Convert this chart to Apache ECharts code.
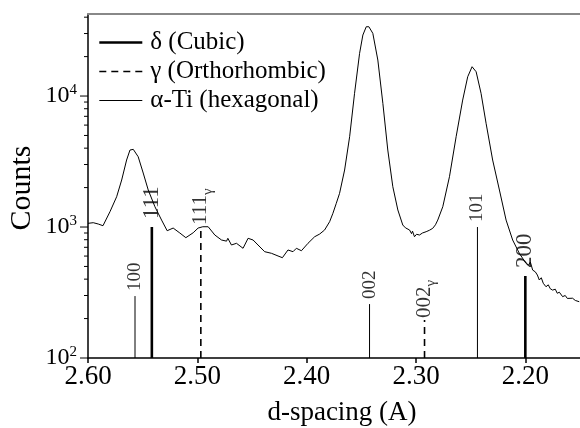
<!DOCTYPE html>
<html>
<head>
<meta charset="utf-8">
<script src="https://cdn.jsdelivr.net/npm/echarts@6/dist/echarts.min.js"></script>
<style>html,body{margin:0;padding:0;background:#fff}#c{width:580px;height:428px}</style>
</head>
<body>
<div id="c"></div>
<script>
// ---- data ----
const curve = [
[2.6000,1067],[2.5952,1079],[2.5906,1054],[2.5863,1023],[2.5799,1309],[2.5738,1703],[2.5692,2285],[2.5647,3247],
[2.5616,3870],[2.5586,3918],[2.5541,3441],[2.5495,2584],[2.5449,1916],[2.5388,1429],[2.5327,1130],[2.5276,937],
[2.5221,982],[2.5160,900],[2.5105,829],[2.5038,904],[2.4993,982],[2.4950,1005],[2.4901,1005],[2.4840,869],
[2.4779,796],[2.4733,780],[2.4721,820],[2.4688,729],[2.4642,751],[2.4582,688],[2.4536,820],[2.4490,796],
[2.4445,729],[2.4384,648],[2.4322,630],[2.4262,601],[2.4222,583],[2.4171,668],[2.4125,648],[2.4094,688],
[2.4048,659],[2.3988,751],[2.3927,843],[2.3881,884],[2.3836,949],[2.3790,1098],[2.3760,1273],[2.3729,1517],
[2.3699,1808],[2.3653,2723],[2.3607,4892],[2.3562,10490],[2.3516,21180],[2.3486,29220],[2.3455,33810],[2.3431,33810],
[2.3395,30110],[2.3349,18830],[2.3303,8790],[2.3258,3870],[2.3212,2031],[2.3166,1349],[2.3121,1036],[2.3096,985],
[2.3078,1010],[2.3059,949],[2.3041,890],[2.3032,930],[2.3014,843],[2.2995,880],[2.2968,869],[2.2941,900],
[2.2907,921],[2.2877,945],[2.2847,977],[2.2822,1040],[2.2801,1130],[2.2755,1429],[2.2694,2421],[2.2633,4892],
[2.2573,9318],[2.2527,14040],[2.2487,16740],[2.2450,15330],[2.2405,10490],[2.2359,6190],[2.2299,3247],[2.2237,1916],
[2.2176,1130],[2.2116,796],[2.2055,630],[2.1994,528],[2.1973,510],[2.1954,540],[2.1933,469],[2.1909,455],
[2.1890,430],[2.1872,394],[2.1854,410],[2.1836,372],[2.1811,350],[2.1790,362],[2.1772,338],[2.1751,330],
[2.1726,335],[2.1708,312],[2.1689,318],[2.1659,294],[2.1635,300],[2.1616,285],[2.1598,295],[2.1568,286],
[2.1543,275],[2.1525,280],[2.1507,269]
];

const deltaName = 'δ (Cubic)';
const deltaD = [2.5416, 2.2000];
const deltaTop = [1000, 422];
const deltaIdx = ['111', '200'];

const gammaName = 'γ (Orthorhombic)';
const gammaD = [2.4968, 2.2922];
const gammaTop = [1000, 195];
const gammaIdx = ['111', '002'];

const alphaName = 'α-Ti (hexagonal)';
const alphaD = [2.5570, 2.3425, 2.2438];
const alphaTop = [297, 258, 1000];
const alphaIdx = ['100', '002', '101'];

const xMin = 2.15, xMax = 2.60;
const yMin = 100, yMax = 42300;
const yMajorTicks = [100, 1000, 10000];
const yMinorTicks = [200,300,400,500,600,700,800,900,2000,3000,4000,5000,6000,7000,8000,9000,20000,30000,40000];

// ---- chart ----
const FONT = 'Liberation Serif';
const W_DELTA = 2.6, W_GAMMA = 1.6, W_ALPHA = 1, DASH = [7, 5];
function stickData(ds, tops) {
  const out = [];
  ds.forEach((d, i) => {
    if (i > 0) out.push([d, '-']);
    out.push([d, yMin]);
    out.push([d, tops[i]]);
  });
  return out;
}
function labelData(ds, tops, idx, fmt, size, dist) {
  return ds.map((d, i) => ({
    value: [d, tops[i]],
    label: {
      show: true, formatter: fmt(idx[i]), rotate: 90, position: 'top', distance: dist,
      align: 'left', verticalAlign: 'middle', fontFamily: FONT, fontSize: size, color: '#000',
      rich: {
        sub: { fontFamily: FONT, fontSize: 15, color: '#000', padding: [14, 0, 0, 0] }
      }
    }
  }));
}

const chart = echarts.init(document.getElementById('c'));
const tickData = yMajorTicks.map(v => [xMax, v, 1]).concat(yMinorTicks.map(v => [xMax, v, 0]));

chart.setOption({
  animation: false,
  backgroundColor: '#fff',
  grid: { left: 88, top: 14, right: 0, bottom: 70 },
  legend: {
    data: [
      { name: deltaName, lineStyle: { width: W_DELTA } },
      { name: gammaName, lineStyle: { width: W_GAMMA, type: DASH } },
      { name: alphaName, lineStyle: { width: W_ALPHA } }
    ],
    orient: 'vertical', left: 93, top: 25,
    itemWidth: 43, itemHeight: 14, itemGap: 4,
    itemStyle: { opacity: 0 },
    textStyle: { fontFamily: FONT, fontSize: 25, color: '#000', padding: [0, 0, 0, 3] }
  },
  xAxis: [{
    type: 'value', min: xMin, max: xMax, inverse: true, splitNumber: 5,
    axisLine: { show: true, onZero: false, lineStyle: { color: '#000', width: 1.5 } },
    axisTick: { show: true, length: 5, lineStyle: { color: '#000', width: 1.5 } },
    axisLabel: { fontFamily: FONT, fontSize: 27, color: '#000', margin: 5, showMinLabel: false,
      formatter: v => v.toFixed(2) },
    splitLine: { show: false }
  }, {
    type: 'value', min: xMin, max: xMax, inverse: true, position: 'top',
    axisLine: { show: true, onZero: false, lineStyle: { color: '#888', width: 2 } },
    axisTick: { show: false }, axisLabel: { show: false }, splitLine: { show: false }
  }],
  yAxis: {
    type: 'log', logBase: 10, min: yMin, max: yMax,
    axisLine: { show: true, lineStyle: { color: '#000', width: 1.5 } },
    axisTick: { show: false },
    splitLine: { show: false },
    axisLabel: {
      margin: 11, color: '#000', fontFamily: FONT, fontSize: 24,
      formatter: v => {
        const l = Math.log10(v), e = Math.round(l);
        if (Math.abs(l - e) > 1e-6) return '';
        return '10{sup|' + e + '}';
      },
      rich: { sup: { fontFamily: FONT, fontSize: 15, color: '#000', padding: [0, 0, 12, 0] } }
    }
  },
  graphic: [
    { type: 'text', x: 22, y: 188, rotation: Math.PI / 2,
      style: { text: 'Counts', fontFamily: FONT, fontSize: 30, fill: '#000', align: 'center', verticalAlign: 'middle' } },
    { type: 'text', x: 342, y: 413,
      style: { text: 'd-spacing (A)', fontFamily: FONT, fontSize: 27, fill: '#000', align: 'center', verticalAlign: 'middle' } }
  ],
  series: [
    { type: 'line', name: 'curve', data: curve, symbol: 'none', silent: true,
      lineStyle: { color: '#000', width: 1 } },
    { type: 'line', name: deltaName, data: stickData(deltaD, deltaTop), symbol: 'none', connectNulls: false,
      color: '#000', lineStyle: { color: '#000', width: W_DELTA } },
    { type: 'line', name: gammaName, data: stickData(gammaD, gammaTop), symbol: 'none', connectNulls: false,
      color: '#000', lineStyle: { color: '#000', width: W_GAMMA, type: DASH } },
    { type: 'line', name: alphaName, data: stickData(alphaD, alphaTop), symbol: 'none', connectNulls: false,
      color: '#000', lineStyle: { color: '#000', width: W_ALPHA } },
    { type: 'scatter', name: 'lblD', symbolSize: 0, itemStyle: { color: 'rgba(0,0,0,0)' },
      data: labelData(deltaD, deltaTop, deltaIdx, s => s, 23, 8) },
    { type: 'scatter', name: 'lblG', symbolSize: 0, itemStyle: { color: 'rgba(0,0,0,0)' },
      data: labelData(gammaD, gammaTop, gammaIdx, s => s + '{sub|γ}', 21, 2) },
    { type: 'scatter', name: 'lblA', symbolSize: 0, itemStyle: { color: 'rgba(0,0,0,0)' },
      data: labelData(alphaD, alphaTop, alphaIdx, s => s, 19, 5) },
    { type: 'custom', name: 'yticks', silent: true, clip: false, data: tickData,
      encode: { x: 0, y: 1 },
      renderItem: (params, api) => {
        const p = api.coord([api.value(0), api.value(1)]);
        const len = api.value(2) ? 8 : 4;
        return { type: 'line', shape: { x1: p[0] - len, y1: p[1], x2: p[0], y2: p[1] },
          style: { stroke: '#000', lineWidth: 1 } };
      } }
  ]
});
</script>
</body>
</html>
